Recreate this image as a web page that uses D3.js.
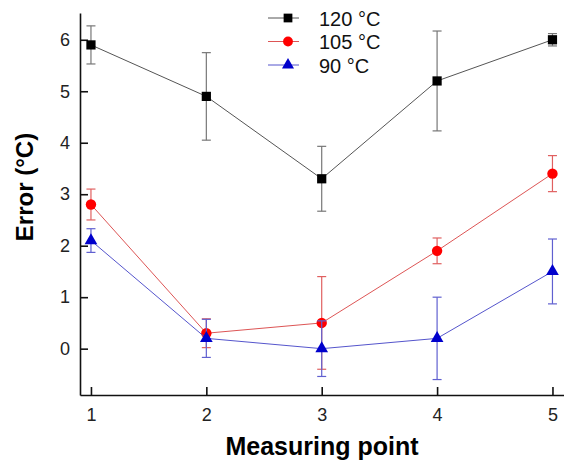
<!DOCTYPE html>
<html lang="en">
<head>
<meta charset="utf-8">
<title>Error vs measuring point</title>
<script src="https://d3js.org/d3.v7.min.js"></script>
<style>
  body { margin: 0; background: #fff; }
  svg { font-family: "Liberation Sans", Arial, sans-serif; }
</style>
</head>
<body>
<div id="chart"></div>
<script>
// data
var points = [1, 2, 3, 4, 5];
var yTicks = [0, 1, 2, 3, 4, 5, 6];
var seriesNames = ["120 °C", "105 °C", "90 °C"];
var val120 = [5.9, 4.9, 3.3, 5.2, 6.0];
var err120 = [0.37, 0.85, 0.63, 0.97, 0.12];
var val105 = [2.8, 0.3, 0.5, 1.9, 3.4];
var err105 = [0.3, 0.28, 0.9, 0.25, 0.35];
var val90 = [2.1, 0.2, 0.0, 0.2, 1.5];
var err90 = [0.23, 0.37, 0.54, 0.8, 0.63];

var W = 564, H = 466;
var svg = d3.select("#chart").append("svg")
    .attr("width", W).attr("height", H);

var x = d3.scaleLinear().domain([0.905, 5.1]).range([80, 564]);
var y = d3.scaleLinear().domain([-0.9, 6.52]).range([395, 13]);

var series = [
  {name: seriesNames[0], vals: val120, errs: err120, line: "#555", bar: "#777", fill: "#000", shape: d3.symbolSquare, size: 85},
  {name: seriesNames[1], vals: val105, errs: err105, line: "#d55", bar: "#e06060", fill: "#f00", shape: d3.symbolCircle, size: 85},
  {name: seriesNames[2], vals: val90, errs: err90, line: "#55c", bar: "#6060d0", fill: "#00c", shape: d3.symbolTriangle, size: 70}
];

// axes
var xAxis = svg.append("g")
    .attr("transform", "translate(0,395)")
    .call(d3.axisBottom(x).tickValues(points).tickFormat(d3.format("d"))
      .tickSize(-8).tickPadding(10).tickSizeOuter(0));
var yAxis = svg.append("g")
    .attr("transform", "translate(80,0)")
    .call(d3.axisLeft(y).tickValues(yTicks).tickFormat(d3.format("d"))
      .tickSize(-8).tickPadding(10).tickSizeOuter(0));

[xAxis, yAxis].forEach(function(a) {
  a.select(".domain").attr("stroke", "#111").attr("stroke-width", 1.6);
  a.selectAll(".tick line").attr("stroke", "#111").attr("stroke-width", 1.6);
  a.selectAll(".tick text").attr("font-size", 18).attr("fill", "#222")
    .attr("font-family", "Liberation Sans, Arial, sans-serif");
});
xAxis.selectAll(".tick text").attr("dy", "0.9em");

// axis titles
svg.append("text")
    .attr("x", 322).attr("y", 455)
    .attr("text-anchor", "middle")
    .attr("font-size", 25).attr("font-weight", "bold")
    .text("Measuring point");
svg.append("text")
    .attr("transform", "translate(33,187) rotate(-90)")
    .attr("text-anchor", "middle")
    .attr("font-size", 24).attr("font-weight", "bold")
    .text("Error (°C)");

// series
series.forEach(function(s) {
  var g = svg.append("g");
  var data = points.map(function(p, i) { return {x: p, v: s.vals[i], e: s.errs[i]}; });

  // error bars
  var eb = g.selectAll(".eb").data(data).enter().append("g");
  eb.append("line")
    .attr("x1", function(d) { return x(d.x); }).attr("x2", function(d) { return x(d.x); })
    .attr("y1", function(d) { return y(d.v - d.e); }).attr("y2", function(d) { return y(d.v + d.e); })
    .attr("stroke", s.bar).attr("stroke-width", 1.2);
  [-1, 1].forEach(function(sign) {
    eb.append("line")
      .attr("x1", function(d) { return x(d.x) - 4.5; }).attr("x2", function(d) { return x(d.x) + 4.5; })
      .attr("y1", function(d) { return y(d.v + sign * d.e); }).attr("y2", function(d) { return y(d.v + sign * d.e); })
      .attr("stroke", s.bar).attr("stroke-width", 1.2);
  });

  g.append("path").datum(data)
    .attr("fill", "none").attr("stroke", s.line).attr("stroke-width", 1)
    .attr("d", d3.line().x(function(d) { return x(d.x); }).y(function(d) { return y(d.v); }));

  g.selectAll(".m").data(data).enter().append("path")
    .attr("transform", function(d) { return "translate(" + x(d.x) + "," + y(d.v) + ")"; })
    .attr("d", d3.symbol().type(s.shape).size(s.size))
    .attr("fill", s.fill);
});

// legend
var leg = svg.append("g");
series.forEach(function(s, i) {
  var ly = 18 + i * 23.5;
  leg.append("line").attr("x1", 268).attr("x2", 299).attr("y1", ly).attr("y2", ly)
    .attr("stroke", s.line).attr("stroke-width", 1);
  leg.append("path").attr("transform", "translate(288," + ly + ")")
    .attr("d", d3.symbol().type(s.shape).size(s.size * 0.9)).attr("fill", s.fill);
  leg.append("text").attr("x", 319).attr("y", ly + 7.5)
    .attr("font-size", 20).attr("fill", "#111").text(s.name);
});
</script>
</body>
</html>
